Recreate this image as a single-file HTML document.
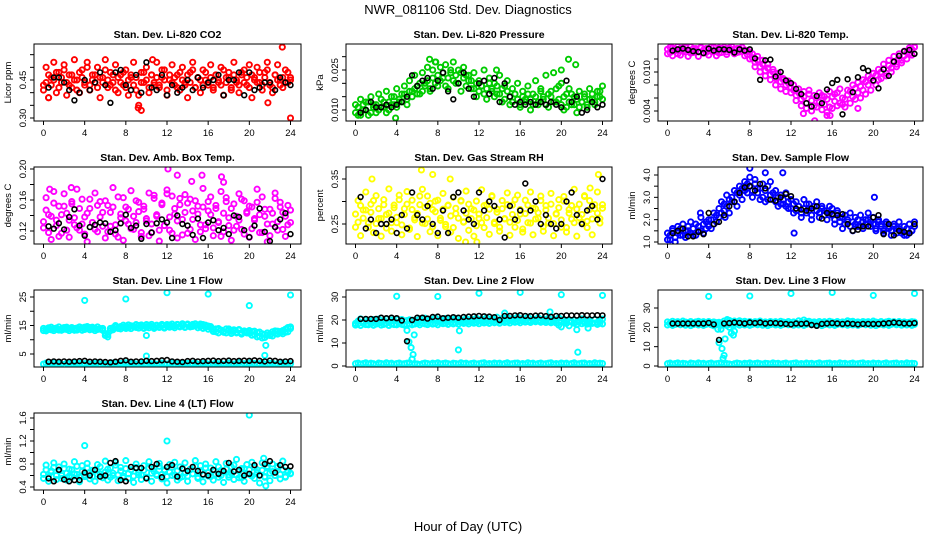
<!DOCTYPE html>
<html><head><meta charset="utf-8"><title>NWR_081106 Std. Dev. Diagnostics</title>
<style>html,body{margin:0;padding:0;background:#fff}svg{display:block;font-family:"Liberation Sans",sans-serif}</style>
</head><body>
<svg id="chart" width="936" height="540" viewBox="0 0 936 540">
<text x="468" y="14" text-anchor="middle" font-size="13">NWR_081106 Std. Dev. Diagnostics</text>
<text x="468" y="531" text-anchor="middle" font-size="13">Hour of Day (UTC)</text>
</svg>
<script>
// ---- data ----
const xTickLabels = [0,4,8,12,16,20,24];

const co2A = [0.41,0.44,0.47,0.43,0.45,0.48,0.42,0.46,0.49,0.44,0.43,0.47,0.45,0.41,0.48,0.46,0.44,0.50,0.43,0.45,0.47,0.42,0.46,0.44,0.49,0.45,0.43,0.47,0.41,0.46,0.44,0.48,0.42,0.45,0.47,0.43,0.46,0.39,0.44,0.48,0.45,0.42,0.47,0.44,0.46,0.43,0.49,0.45,0.41,0.47,0.44,0.46,0.42,0.48,0.45,0.43,0.47,0.44,0.49,0.42,0.46,0.45,0.43,0.48,0.44,0.46,0.42,0.47,0.45,0.43,0.49,0.44,0.46,0.41,0.47,0.45,0.43,0.48,0.44,0.46,0.42,0.47,0.45,0.44,0.48,0.43,0.46,0.49,0.44,0.42,0.47,0.45,0.43,0.46,0.44,0.48,0.45];
const co2B = [0.43,0.50,0.38,0.46,0.52,0.40,0.48,0.44,0.51,0.39,0.47,0.42,0.53,0.45,0.40,0.49,0.43,0.52,0.41,0.47,0.44,0.50,0.38,0.46,0.53,0.42,0.48,0.44,0.51,0.40,0.47,0.43,0.49,0.39,0.46,0.52,0.41,0.35,0.48,0.44,0.50,0.40,0.47,0.43,0.52,0.42,0.46,0.49,0.39,0.45,0.51,0.43,0.47,0.41,0.50,0.44,0.38,0.48,0.52,0.42,0.46,0.40,0.49,0.45,0.43,0.51,0.41,0.47,0.44,0.50,0.39,0.46,0.48,0.42,0.52,0.44,0.40,0.47,0.49,0.43,0.51,0.38,0.46,0.50,0.44,0.41,0.48,0.52,0.43,0.40,0.47,0.51,0.45,0.42,0.49,0.44,0.46];
const co2OutHours = [9.2,9.5,21.8,23.2,24,0.5,10.6];
const co2OutVals = [0.34,0.33,0.36,0.58,0.30,0.38,0.53];
const co2Black = [0.42,0.46,0.46,0.44,0.41,0.37,0.40,0.45,0.41,0.44,0.48,0.43,0.36,0.48,0.49,0.43,0.41,0.47,0.40,0.52,0.42,0.41,0.47,0.39,0.43,0.40,0.42,0.45,0.41,0.46,0.42,0.44,0.45,0.47,0.39,0.45,0.45,0.48,0.39,0.48,0.41,0.42,0.44,0.44,0.41,0.46,0.44,0.43];

const presA = [0.009,0.011,0.008,0.012,0.010,0.013,0.009,0.011,0.012,0.010,0.014,0.011,0.009,0.013,0.012,0.015,0.011,0.014,0.013,0.016,0.014,0.017,0.015,0.018,0.016,0.020,0.017,0.019,0.021,0.018,0.022,0.020,0.023,0.021,0.024,0.019,0.022,0.025,0.021,0.023,0.020,0.024,0.022,0.019,0.023,0.021,0.018,0.020,0.017,0.019,0.016,0.018,0.020,0.017,0.015,0.019,0.016,0.018,0.014,0.017,0.015,0.013,0.016,0.014,0.012,0.015,0.013,0.016,0.014,0.012,0.015,0.013,0.017,0.014,0.012,0.016,0.015,0.013,0.018,0.014,0.012,0.015,0.011,0.013,0.016,0.012,0.014,0.011,0.013,0.015,0.012,0.014,0.016,0.013,0.015,0.017,0.014];
const presB = [0.012,0.008,0.014,0.010,0.013,0.008,0.015,0.012,0.009,0.016,0.011,0.013,0.017,0.010,0.015,0.012,0.018,0.013,0.016,0.019,0.012,0.021,0.017,0.023,0.019,0.016,0.024,0.020,0.026,0.017,0.025,0.028,0.019,0.026,0.022,0.027,0.018,0.024,0.028,0.020,0.025,0.017,0.026,0.023,0.021,0.018,0.024,0.015,0.021,0.019,0.025,0.014,0.022,0.018,0.020,0.016,0.023,0.013,0.019,0.021,0.012,0.018,0.016,0.020,0.011,0.017,0.014,0.019,0.010,0.016,0.021,0.012,0.018,0.015,0.023,0.011,0.017,0.024,0.013,0.019,0.020,0.010,0.016,0.018,0.012,0.015,0.009,0.017,0.013,0.016,0.011,0.018,0.014,0.012,0.017,0.015,0.019];
const presOutHours = [7.2,7.8,20.7,21.4,20.0,13.7,3.9];
const presOutVals = [0.029,0.028,0.029,0.027,0.025,0.025,0.007];
const presBlack = [0.009,0.010,0.013,0.011,0.011,0.012,0.011,0.012,0.013,0.015,0.023,0.019,0.021,0.022,0.018,0.021,0.024,0.017,0.014,0.020,0.024,0.018,0.015,0.020,0.021,0.016,0.022,0.013,0.020,0.015,0.012,0.013,0.012,0.013,0.012,0.013,0.012,0.013,0.012,0.011,0.021,0.013,0.015,0.009,0.010,0.013,0.011,0.012];

const tempA = [0.0135,0.0130,0.0137,0.0133,0.0128,0.0136,0.0132,0.0138,0.0134,0.0129,0.0136,0.0133,0.0131,0.0137,0.0134,0.0130,0.0136,0.0132,0.0138,0.0133,0.0129,0.0136,0.0134,0.0131,0.0137,0.0133,0.0135,0.0130,0.0136,0.0132,0.0134,0.0127,0.0131,0.0122,0.0115,0.0118,0.0108,0.0112,0.0102,0.0106,0.0096,0.0100,0.0090,0.0094,0.0085,0.0088,0.0080,0.0083,0.0076,0.0072,0.0064,0.0068,0.0058,0.0062,0.0052,0.0066,0.0056,0.0048,0.0060,0.0054,0.0064,0.0050,0.0058,0.0046,0.0062,0.0055,0.0068,0.0052,0.0060,0.0058,0.0065,0.0070,0.0062,0.0075,0.0068,0.0078,0.0072,0.0085,0.0080,0.0090,0.0086,0.0095,0.0088,0.0100,0.0105,0.0098,0.0110,0.0106,0.0115,0.0112,0.0120,0.0118,0.0125,0.0130,0.0128,0.0135,0.0138];
const tempB = [0.0128,0.0138,0.0125,0.0135,0.0139,0.0126,0.0137,0.0131,0.0124,0.0139,0.0130,0.0136,0.0124,0.0138,0.0129,0.0136,0.0126,0.0139,0.0131,0.0125,0.0137,0.0130,0.0138,0.0127,0.0135,0.0139,0.0128,0.0136,0.0131,0.0138,0.0125,0.0133,0.0120,0.0128,0.0108,0.0124,0.0100,0.0118,0.0094,0.0112,0.0088,0.0104,0.0080,0.0098,0.0074,0.0090,0.0070,0.0086,0.0068,0.0080,0.0056,0.0074,0.0048,0.0070,0.0044,0.0072,0.0040,0.0064,0.0046,0.0068,0.0042,0.0062,0.0038,0.0070,0.0044,0.0066,0.0048,0.0074,0.0050,0.0046,0.0072,0.0052,0.0080,0.0058,0.0084,0.0060,0.0088,0.0066,0.0094,0.0072,0.0098,0.0080,0.0104,0.0090,0.0112,0.0094,0.0118,0.0100,0.0124,0.0108,0.0128,0.0114,0.0132,0.0120,0.0137,0.0126,0.0139];
const tempOutHours = [14.3,15.5,15.8,13.2,18.5];
const tempOutVals = [0.0025,0.0033,0.0033,0.0036,0.0044];
const tempBlack = [0.0133,0.0135,0.0136,0.0134,0.0132,0.0131,0.0129,0.0136,0.0133,0.0135,0.0135,0.0134,0.0130,0.0135,0.0133,0.0135,0.0121,0.0088,0.0118,0.0119,0.0093,0.0100,0.0087,0.0083,0.0074,0.0066,0.0052,0.0047,0.0063,0.0052,0.0073,0.0083,0.0088,0.0035,0.0089,0.0069,0.0092,0.0106,0.0102,0.0087,0.0075,0.0104,0.0094,0.0116,0.0125,0.0132,0.0134,0.0128];

const ambA = [0.132,0.147,0.118,0.139,0.156,0.127,0.113,0.141,0.152,0.121,0.134,0.158,0.137,0.124,0.149,0.129,0.116,0.143,0.161,0.131,0.122,0.153,0.138,0.126,0.159,0.119,0.144,0.151,0.128,0.112,0.142,0.163,0.133,0.148,0.123,0.139,0.131,0.157,0.118,0.152,0.136,0.114,0.129,0.166,0.141,0.121,0.154,0.127,0.168,0.138,0.117,0.149,0.133,0.162,0.115,0.144,0.156,0.122,0.135,0.159,0.142,0.119,0.151,0.128,0.146,0.164,0.124,0.153,0.131,0.113,0.143,0.158,0.127,0.149,0.121,0.139,0.134,0.161,0.116,0.145,0.152,0.123,0.136,0.157,0.141,0.118,0.148,0.129,0.114,0.143,0.162,0.132,0.151,0.122,0.139,0.128,0.147];
const ambB = [0.124,0.163,0.141,0.109,0.171,0.134,0.152,0.117,0.168,0.143,0.112,0.155,0.128,0.174,0.121,0.161,0.138,0.106,0.149,0.131,0.169,0.119,0.158,0.144,0.111,0.153,0.126,0.176,0.116,0.164,0.137,0.108,0.151,0.129,0.172,0.122,0.159,0.145,0.113,0.148,0.133,0.169,0.118,0.162,0.139,0.107,0.156,0.127,0.173,0.121,0.165,0.142,0.111,0.154,0.135,0.167,0.117,0.161,0.146,0.109,0.152,0.128,0.175,0.123,0.158,0.141,0.114,0.149,0.132,0.171,0.119,0.163,0.137,0.108,0.155,0.126,0.168,0.122,0.159,0.143,0.112,0.151,0.134,0.174,0.118,0.164,0.139,0.106,0.148,0.129,0.169,0.121,0.157,0.144,0.113,0.153,0.131];
const ambOutHours = [12.1,13.0,15.4,17.3,17.5,14.4,2.7,0.6];
const ambOutVals = [0.200,0.192,0.192,0.190,0.183,0.184,0.176,0.174];
const ambBlack = [0.126,0.123,0.130,0.122,0.138,0.148,0.127,0.114,0.125,0.128,0.131,0.130,0.119,0.121,0.130,0.141,0.124,0.127,0.110,0.129,0.118,0.130,0.135,0.131,0.111,0.140,0.129,0.127,0.115,0.136,0.111,0.131,0.134,0.121,0.124,0.116,0.140,0.138,0.121,0.112,0.127,0.149,0.119,0.107,0.125,0.135,0.143,0.116];

const rhA = [0.272,0.254,0.291,0.263,0.281,0.243,0.276,0.302,0.251,0.284,0.262,0.293,0.241,0.274,0.253,0.286,0.265,0.304,0.248,0.271,0.294,0.238,0.282,0.259,0.273,0.312,0.252,0.287,0.261,0.296,0.244,0.277,0.303,0.258,0.283,0.249,0.292,0.268,0.242,0.285,0.263,0.301,0.255,0.274,0.294,0.262,0.281,0.246,0.272,0.253,0.291,0.264,0.283,0.313,0.251,0.276,0.243,0.284,0.262,0.293,0.254,0.271,0.304,0.258,0.282,0.239,0.273,0.292,0.252,0.285,0.261,0.275,0.302,0.244,0.281,0.263,0.294,0.251,0.272,0.286,0.259,0.301,0.242,0.274,0.291,0.253,0.283,0.264,0.271,0.311,0.256,0.282,0.261,0.293,0.274,0.252,0.285];
const rhB = [0.243,0.302,0.224,0.281,0.321,0.252,0.294,0.231,0.313,0.262,0.223,0.304,0.271,0.328,0.234,0.292,0.253,0.314,0.226,0.284,0.322,0.241,0.303,0.264,0.222,0.293,0.327,0.251,0.312,0.233,0.282,0.301,0.224,0.263,0.318,0.244,0.291,0.232,0.309,0.273,0.218,0.302,0.254,0.323,0.236,0.284,0.223,0.301,0.262,0.326,0.242,0.293,0.227,0.311,0.254,0.283,0.234,0.302,0.261,0.319,0.225,0.292,0.243,0.314,0.272,0.232,0.303,0.253,0.321,0.226,0.284,0.263,0.312,0.234,0.291,0.252,0.318,0.224,0.273,0.304,0.243,0.311,0.232,0.282,0.261,0.327,0.223,0.294,0.254,0.313,0.242,0.302,0.226,0.284,0.321,0.262,0.293];
const rhOutHours = [6.4,1.6,7.5,9.2,22.8,11.8,10.7,23.6];
const rhOutVals = [0.37,0.35,0.36,0.35,0.33,0.21,0.21,0.36];
const rhBlack = [0.31,0.24,0.26,0.23,0.25,0.25,0.26,0.23,0.27,0.24,0.32,0.27,0.26,0.29,0.25,0.23,0.28,0.23,0.31,0.32,0.28,0.26,0.25,0.32,0.28,0.30,0.29,0.26,0.22,0.29,0.26,0.28,0.34,0.28,0.30,0.25,0.27,0.25,0.24,0.25,0.30,0.32,0.27,0.25,0.28,0.29,0.26,0.35];

const flowA = [1.1,1.3,1.5,1.2,1.4,1.6,1.3,1.5,1.7,1.4,1.6,1.3,1.7,1.5,1.8,1.6,1.7,2.0,1.8,2.2,2.5,2.3,2.7,2.6,2.9,3.0,2.8,3.2,3.1,3.4,3.3,3.6,3.5,3.3,3.6,3.2,3.4,3.0,3.3,2.9,3.1,3.2,2.8,3.0,2.7,2.9,2.6,2.8,2.5,2.7,2.4,2.6,2.3,2.5,2.7,2.4,2.2,2.6,2.4,2.3,2.5,2.2,2.4,2.3,2.2,2.0,2.3,1.9,2.1,1.8,2.0,1.7,1.9,1.8,2.0,1.7,1.9,1.8,2.0,1.9,1.8,1.6,1.9,1.7,1.5,1.8,1.6,1.5,1.7,1.4,1.6,1.5,1.3,1.6,1.4,1.5,1.7];
const flowB = [1.4,1.1,1.6,1.0,1.7,1.3,1.8,1.2,1.5,1.9,1.3,1.8,1.5,2.1,1.4,1.9,2.0,1.6,2.3,1.9,2.1,2.8,2.4,3.1,2.3,2.8,3.3,2.6,3.5,2.9,3.7,3.2,3.9,3.0,3.8,3.4,2.9,3.6,2.8,3.5,3.7,2.9,3.3,2.6,3.1,2.7,3.2,2.5,2.9,2.3,2.8,2.6,2.1,2.9,2.3,2.7,2.0,2.6,2.8,2.1,2.6,2.4,2.0,2.6,2.5,1.8,2.4,2.1,1.6,2.2,1.9,2.3,1.5,2.1,1.7,2.2,1.6,2.0,2.3,1.7,2.1,1.5,2.0,1.8,1.4,1.9,1.7,1.3,1.8,1.6,1.9,1.4,1.7,1.3,1.8,1.5,1.9];
const flowOutHours = [8.0,9.5,11.2,20.1,12.3,3.2,5.6];
const flowOutVals = [4.3,4.1,4.1,3.0,1.4,2.3,2.1];
const flowBlack = [1.4,1.5,1.6,1.25,1.25,1.45,1.35,2.3,1.8,1.9,2.2,2.6,2.8,3.2,3.45,3.5,3.3,3.6,3.4,2.9,2.85,3.0,3.15,3.05,2.5,2.45,2.4,2.5,2.6,2.05,2.3,2.25,2.2,2.25,1.8,1.5,1.55,1.7,1.7,2.1,2.2,1.35,1.8,1.3,1.5,1.45,1.4,1.8];

const line1A = [13.2,13.8,14.2,13.5,13.9,14.1,13.4,13.8,14.3,13.6,14.0,13.7,13.3,14.1,13.8,14.2,14.4,13.9,14.3,13.7,14.1,13.6,13.9,13.3,11.5,11.0,13.2,14.2,14.5,14.0,14.6,14.3,14.8,14.2,14.9,14.5,14.3,15.0,14.6,14.8,14.4,15.1,14.7,14.5,15.0,14.6,14.9,14.3,14.8,15.2,14.6,14.9,15.3,14.7,15.0,14.5,15.2,14.8,15.4,14.9,15.1,14.6,15.3,14.4,14.8,14.2,13.6,12.8,13.9,13.4,12.6,13.8,13.2,12.9,13.5,12.7,13.3,12.5,13.1,12.8,12.3,12.9,11.8,12.5,11.2,12.1,10.8,12.4,11.5,12.8,12.2,13.0,12.4,13.2,12.6,14.3,13.9];
const line1B = [14.0,13.1,13.6,14.4,13.2,13.7,14.5,13.3,13.7,14.4,13.2,14.3,13.9,13.4,14.5,13.3,13.6,14.6,13.5,14.4,13.2,14.5,13.7,14.0,12.2,11.8,14.0,13.5,15.0,14.1,13.8,15.1,14.0,15.2,13.9,14.8,15.3,14.1,15.2,14.0,15.3,14.2,15.4,14.0,15.1,14.3,15.4,14.1,15.3,14.4,15.5,14.2,15.4,14.5,15.6,14.3,15.5,14.5,14.7,15.6,14.2,15.5,14.0,15.1,13.7,14.6,12.9,13.8,12.4,13.3,12.9,12.4,13.8,12.2,13.1,12.4,13.6,12.0,12.9,12.4,13.2,11.6,13.0,11.0,12.7,10.6,11.8,11.6,12.0,11.3,13.1,12.0,12.9,12.1,13.7,12.8,14.5];
const line1Low = [1.5,1.8,1.3,1.6,1.9,1.4,1.7,1.5,1.2,1.8,1.6,1.4,1.9,1.5,1.7,1.3,1.6,1.8,1.4,1.5,1.7,1.9,1.3,1.6,1.4,1.1,1.5,1.8,1.6,1.3,1.7,1.5,1.9,1.4,1.6,1.8,1.5,1.3,1.7,1.6,1.4,1.9,1.5,1.7,1.3,1.6,1.8,1.4,1.5,1.7,1.9,1.3,1.6,1.4,1.8,1.5,1.7,1.3,1.6,1.9,1.4,1.5,1.7,1.8,1.3,1.6,1.4,1.9,1.5,1.7,1.3,1.6,1.8,1.4,1.5,1.7,1.9,1.3,1.6,1.4,1.8,1.5,1.7,1.3,1.6,1.9,1.4,1.5,1.7,1.8,1.3,1.6,1.4,1.9,1.5,1.7,1.6];
const line1OutHours = [4,8,12,16,20,24,21.6,21.5,10,10];
const line1OutVals = [23.8,24.3,26.5,26.0,22.0,25.7,8.0,4.5,4.3,11.5];
const line1Black = [2.3,2.4,2.3,2.4,2.3,2.4,2.5,2.6,2.3,2.4,2.3,2.2,2.1,2.3,2.6,2.8,2.3,2.4,2.4,2.6,2.5,2.6,2.8,2.9,2.4,2.3,2.2,2.5,2.6,2.4,2.5,2.6,2.7,2.5,2.6,2.7,2.5,2.6,2.7,2.6,2.8,2.6,2.4,2.7,2.6,2.3,2.4,2.5];

const line2A = [18.5,19.5,20.5,19.0,20.0,19.5,18.8,20.2,19.3,20.4,19.0,19.8,20.5,19.2,20.0,19.6,20.3,19.1,20.2,19.5,19.8,20.1,19.6,20.0,19.2,20.5,19.6,20.8,19.4,20.3,19.8,20.9,19.5,20.2,19.7,20.6,19.3,20.4,19.9,20.7,19.4,20.1,19.8,20.6,19.5,20.3,19.9,20.8,19.6,20.4,20.0,21.0,19.7,20.5,20.1,21.2,19.8,20.6,20.2,21.1,19.9,20.7,20.3,21.3,19.8,20.6,20.0,21.2,19.7,20.5,20.1,21.0,19.6,20.4,19.9,20.8,19.5,20.3,19.8,20.9,19.4,20.2,19.7,19.5,19.3,20.0,19.1,19.6,20.5,19.2,20.0,19.5,18.8,20.2,19.0,19.7,20.4];
const line2B = [17.8,18.3,17.6,18.5,18.0,17.9,18.4,17.7,18.2,18.6,17.8,18.1,18.5,17.6,18.3,18.0,17.9,18.4,18.1,17.8,18.0,18.3,17.9,18.2,18.5,17.9,18.6,18.3,18.0,18.7,18.2,18.5,17.9,18.8,18.4,18.6,18.1,18.9,18.3,18.7,18.2,19.0,18.5,18.8,18.3,19.1,18.6,18.9,18.4,19.2,18.7,19.0,18.5,19.3,18.8,19.1,18.6,19.4,18.9,19.2,18.7,19.5,19.0,19.3,18.8,19.6,19.1,19.4,18.9,19.6,19.2,19.5,19.0,19.4,18.9,19.3,18.8,19.2,18.7,17.8,17.0,19.0,18.5,17.5,19.1,18.6,18.0,19.2,18.4,18.8,18.2,19.0,18.5,18.7,18.1,18.6,18.3];
const line2Low = [1.0,1.3,0.8,1.1,1.4,0.9,1.2,1.0,0.7,1.3,1.1,0.9,1.4,1.0,1.2,0.8,1.1,1.3,0.9,1.0,1.2,1.4,0.8,1.1,0.9,0.6,1.0,1.3,1.1,0.8,1.2,1.0,1.4,0.9,1.1,1.3,1.0,0.8,1.2,1.1,0.9,1.4,1.0,1.2,0.8,1.1,1.3,0.9,1.0,1.2,1.4,0.8,1.1,0.9,1.3,1.0,1.2,0.8,1.1,1.4,0.9,1.0,1.2,1.3,0.8,1.1,0.9,1.4,1.0,1.2,0.8,1.1,1.3,0.9,1.0,1.2,1.4,0.8,1.1,0.9,1.3,1.0,1.2,0.8,1.1,1.4,0.9,1.0,1.2,1.3,0.8,1.1,0.9,1.4,1.0,1.2,1.1];
const line2OutHours = [4,8,12,16,20,24,5.0,5.2,5.4,5.5,5.6,5.7,10,10.1,21.5,21.6,22.6,18.9,14.5];
const line2OutVals = [30.3,30.2,31.6,32.0,31.0,30.7,15.5,10.5,8.0,3.0,5.0,13.5,7.0,15.3,15.8,6.0,16.5,23.5,23.0];
const line2Black = [20.5,20.5,20.5,20.5,21.0,20.8,21.0,20.8,19.8,10.8,20.0,21.0,21.0,20.6,21.3,21.5,20.8,21.0,21.2,21.0,21.3,21.5,21.6,21.8,21.6,21.5,21.2,20.0,21.8,21.8,22.0,22.1,21.8,21.7,21.9,22.0,21.7,21.4,21.8,21.8,22.0,22.0,21.9,22.1,22.0,22.0,22.1,22.0];

const line3A = [22.8,22.3,23.1,22.6,22.9,22.4,23.2,22.7,22.5,23.0,22.3,22.8,23.1,22.6,22.9,22.2,23.0,22.5,22.8,22.4,22.6,22.1,23.3,22.7,23.6,22.9,23.2,22.5,23.4,22.8,23.1,22.6,23.0,22.4,22.9,22.7,23.2,22.5,22.8,22.3,23.0,22.6,22.9,22.4,23.1,22.7,22.5,23.0,22.3,22.8,22.2,23.4,22.6,23.8,22.9,23.1,22.6,22.8,22.3,23.0,22.5,22.9,22.4,23.1,22.7,22.5,23.0,22.3,22.8,22.6,23.4,22.9,23.1,22.5,22.8,22.3,23.0,22.6,22.9,22.4,23.2,22.7,22.5,23.0,22.3,22.8,23.1,22.6,22.9,22.2,23.0,22.5,22.8,22.4,22.6,22.9,22.7];
const line3B = [21.2,21.8,21.0,21.5,21.9,21.3,21.7,21.1,21.6,20.9,21.4,21.8,21.2,21.6,21.0,21.5,21.9,21.3,20.8,21.4,21.7,21.1,21.6,21.0,21.5,21.9,21.3,21.7,21.1,21.6,21.2,21.8,21.0,21.5,21.9,21.3,21.7,21.1,21.6,20.9,21.4,21.8,21.2,21.6,21.0,21.5,21.9,21.3,21.7,21.1,21.6,21.2,21.8,21.0,21.5,21.9,21.3,21.7,21.1,21.6,20.9,21.4,21.8,21.2,21.6,21.0,21.5,21.9,21.3,21.7,21.1,21.6,21.2,21.8,21.0,21.5,21.9,21.3,21.7,21.1,21.6,20.9,21.4,21.8,21.2,21.6,21.0,21.5,21.9,21.3,21.7,21.1,21.6,21.2,21.8,21.0,21.5];
const line3Low = [1.2,1.5,1.0,1.3,1.6,1.1,1.4,1.2,0.9,1.5,1.3,1.1,1.6,1.2,1.4,1.0,1.3,1.5,1.1,1.2,1.4,1.6,1.0,1.3,1.1,0.8,1.2,1.5,1.3,1.0,1.4,1.2,1.6,1.1,1.3,1.5,1.2,1.0,1.4,1.3,1.1,1.6,1.2,1.4,1.0,1.3,1.5,1.1,1.2,1.4,1.6,1.0,1.3,1.1,1.5,1.2,1.4,1.0,1.3,1.6,1.1,1.2,1.4,1.5,1.0,1.3,1.1,1.6,1.2,1.4,1.0,1.3,1.5,1.1,1.2,1.4,1.6,1.0,1.3,1.1,1.5,1.2,1.4,1.0,1.3,1.6,1.1,1.2,1.4,1.5,1.0,1.3,1.1,1.6,1.2,1.4,1.3];
const line3OutHours = [4,8,12,16,20,24,5.0,5.2,5.3,5.4,5.5,5.6,5.8,6.0,6.2,6.4,6.5,4.9];
const line3OutVals = [36.0,36.2,37.5,38.0,36.5,37.5,12.0,19.0,9.0,4.0,5.5,14.0,24.0,20.0,17.0,16.0,18.0,19.0];
const line3Black = [22.0,22.0,22.0,22.0,22.0,22.0,22.0,22.3,21.5,13.5,22.0,22.2,22.5,22.3,22.0,22.5,22.2,22.5,22.0,22.3,22.2,22.0,21.8,21.5,22.0,21.8,22.0,21.2,20.8,21.8,22.0,22.2,22.0,21.8,22.0,21.8,21.5,21.8,21.8,21.7,21.8,22.0,22.2,22.5,22.3,22.0,22.0,22.2];

const line4A = [0.62,0.70,0.58,0.66,0.74,0.60,0.68,0.55,0.72,0.64,0.59,0.70,0.63,0.76,0.57,0.67,0.61,0.73,0.65,0.58,0.69,0.62,0.75,0.60,0.66,0.71,0.57,0.64,0.78,0.61,0.68,0.56,0.72,0.63,0.70,0.59,0.74,0.65,0.61,0.69,0.57,0.73,0.64,0.67,0.60,0.76,0.62,0.70,0.58,0.66,0.74,0.61,0.68,0.56,0.72,0.64,0.59,0.70,0.63,0.76,0.57,0.67,0.61,0.73,0.65,0.58,0.69,0.62,0.75,0.60,0.66,0.71,0.57,0.64,0.78,0.61,0.68,0.56,0.72,0.63,0.70,0.59,0.74,0.65,0.61,0.69,0.57,0.73,0.64,0.67,0.60,0.76,0.62,0.70,0.58,0.66,0.64];
const line4B = [0.55,0.78,0.50,0.68,0.82,0.53,0.75,0.60,0.80,0.52,0.71,0.57,0.84,0.62,0.49,0.77,0.58,0.81,0.54,0.69,0.50,0.79,0.63,0.56,0.85,0.52,0.73,0.60,0.83,0.51,0.74,0.59,0.86,0.55,0.70,0.48,0.80,0.61,0.53,0.77,0.57,0.84,0.50,0.72,0.62,0.81,0.54,0.68,0.47,0.79,0.60,0.83,0.52,0.75,0.58,0.82,0.50,0.71,0.63,0.86,0.55,0.77,0.49,0.80,0.59,0.73,0.52,0.84,0.57,0.69,0.48,0.81,0.61,0.75,0.53,0.88,0.56,0.72,0.50,0.79,0.62,0.83,0.55,0.70,0.47,0.82,0.58,0.76,0.51,0.80,0.60,0.74,0.54,0.85,0.57,0.68,0.63];
const line4OutHours = [4.0,12.0,20.0,21.6,21.4];
const line4OutVals = [1.12,1.20,1.65,0.42,0.90];
const line4Black = [0.55,0.50,0.70,0.53,0.50,0.52,0.52,0.65,0.60,0.70,0.58,0.60,0.82,0.85,0.52,0.50,0.75,0.73,0.73,0.55,0.75,0.80,0.57,0.75,0.78,0.58,0.72,0.68,0.75,0.68,0.62,0.60,0.70,0.63,0.68,0.82,0.67,0.70,0.60,0.63,0.78,0.60,0.80,0.85,0.65,0.78,0.75,0.76];

const panels = [
 {name:'co2',title:'Stan. Dev. Li-820 CO2',ylab:'Licor ppm',col:0,row:0,color:'#ff0000',ref:[0.30,74,0.45,36],ticks:[0.30,0.35,0.40,0.45,0.50,0.55],labels:['0.30','','','0.45','',''],series:[co2A,co2B],low:null,oh:co2OutHours,ov:co2OutVals,black:co2Black},
 {name:'pressure',title:'Stan. Dev. Li-820 Pressure',ylab:'kPa',col:1,row:0,color:'#00cc00',ref:[0.010,66,0.025,26],ticks:[0.010,0.015,0.020,0.025,0.030],labels:['0.010','','','0.025',''],series:[presA,presB],low:null,oh:presOutHours,ov:presOutVals,black:presBlack},
 {name:'li820-temp',title:'Stan. Dev. Li-820 Temp.',ylab:'degrees C',col:2,row:0,color:'#ff00ff',ref:[0.004,67,0.010,28],ticks:[0.004,0.006,0.008,0.010,0.012],labels:['0.004','','','0.010',''],series:[tempA,tempB],low:null,oh:tempOutHours,ov:tempOutVals,black:tempBlack},
 {name:'amb-box-temp',title:'Stan. Dev. Amb. Box Temp.',ylab:'degrees C',col:0,row:1,color:'#ff00ff',ref:[0.12,64,0.20,2],ticks:[0.12,0.14,0.16,0.18,0.20],labels:['0.12','','0.16','','0.20'],series:[ambA,ambB],low:null,oh:ambOutHours,ov:ambOutVals,black:ambBlack},
 {name:'gas-rh',title:'Stan. Dev. Gas Stream RH',ylab:'percent',col:1,row:1,color:'#ffff00',ref:[0.25,57,0.35,12],ticks:[0.25,0.30,0.35],labels:['0.25','','0.35'],series:[rhA,rhB],low:null,oh:rhOutHours,ov:rhOutVals,black:rhBlack},
 {name:'sample-flow',title:'Stan. Dev. Sample Flow',ylab:'ml/min',col:2,row:1,color:'#0000ff',ref:[1.0,75,4.0,8],ticks:[1.0,1.5,2.0,2.5,3.0,3.5,4.0],labels:['1.0','','2.0','','3.0','','4.0'],series:[flowA,flowB],low:null,oh:flowOutHours,ov:flowOutVals,black:flowBlack},
 {name:'line1-flow',title:'Stan. Dev. Line 1 Flow',ylab:'ml/min',col:0,row:2,color:'#00ffff',ref:[5,64,25,7],ticks:[5,10,15,20,25],labels:['5','','15','','25'],series:[line1A,line1B],low:line1Low,oh:line1OutHours,ov:line1OutVals,black:line1Black},
 {name:'line2-flow',title:'Stan. Dev. Line 2 Flow',ylab:'ml/min',col:1,row:2,color:'#00ffff',ref:[0,76,30,7],ticks:[0,10,20,30],labels:['0','10','20','30'],series:[line2A,line2B],low:line2Low,oh:line2OutHours,ov:line2OutVals,black:line2Black},
 {name:'line3-flow',title:'Stan. Dev. Line 3 Flow',ylab:'ml/min',col:2,row:2,color:'#00ffff',ref:[0,76,30,18],ticks:[0,10,20,30],labels:['0','10','20','30'],series:[line3A,line3B],low:line3Low,oh:line3OutHours,ov:line3OutVals,black:line3Black},
 {name:'line4-flow',title:'Stan. Dev. Line 4 (LT) Flow',ylab:'ml/min',col:0,row:3,color:'#00ffff',ref:[0.4,74,1.6,5],ticks:[0.4,0.6,0.8,1.0,1.2,1.4,1.6],labels:['0.4','','0.8','','1.2','','1.6'],series:[line4A,line4B],low:null,oh:line4OutHours,ov:line4OutVals,black:line4Black}
];

const colLeft=[34,346,658], colW=[267,266,265], rowTop=[44,167,290,413], boxH=77;
const NS='http://www.w3.org/2000/svg';
const svg=document.getElementById('chart');
function mk(tag,attrs,parent){const e=document.createElementNS(NS,tag);for(const k in attrs)e.setAttribute(k,attrs[k]);(parent||svg).appendChild(e);return e;}

panels.forEach(p=>{
  const L=colLeft[p.col], W=colW[p.col], T=rowTop[p.row], B=T+boxH;
  const x0=L+9.5, ppu=247/24;
  const xS=h=>x0+h*ppu;
  const [v1,o1,v2,o2]=p.ref;
  const yS=v=>T+o1+(v-v1)*(o2-o1)/(v2-v1);
  const g=mk('g',{});
  
  
  const t=mk('text',{x:L+W/2,y:T-6,'text-anchor':'middle','font-size':'10.5','font-weight':'bold'},g);
  t.textContent=p.title;
  
  
  const yl=mk('text',{x:L-23,y:(T+B)/2,'text-anchor':'middle','font-size':'9.5',transform:`rotate(-90 ${L-23} ${(T+B)/2})`},g);
  yl.textContent=p.ylab;
  
  
  p.ticks.forEach((v,i)=>{
    const y=yS(v);
    const tk=mk('line',{x1:L-4,x2:L,y1:y,y2:y,stroke:'#000','stroke-width':1},g);
    
    
    if(p.labels[i]){
      const lb=mk('text',{x:L-8,y:y,'text-anchor':'middle','font-size':'9.5',transform:`rotate(-90 ${L-8} ${y})`},g);
      lb.textContent=p.labels[i];
      
      
    }
  });
  xTickLabels.forEach(h=>{
    const x=xS(h);
    const tk=mk('line',{x1:x,x2:x,y1:B,y2:B+4,stroke:'#000','stroke-width':1},g);
    
    
    const lb=mk('text',{x:x,y:B+15,'text-anchor':'middle','font-size':'9.5'},g);
    lb.textContent=String(h);
    
    
  });
  const cid='clip-'+p.name;
  const cp=mk('clipPath',{id:cid},g);
  mk('rect',{x:L,y:T,width:W,height:boxH},cp);
  const pts=mk('g',{'clip-path':`url(#${cid})`,fill:'none'},g);
  
  
  const dot=(h,v,c,nm,r,sw)=>{
    const c1=mk('circle',{cx:xS(h).toFixed(1),cy:yS(v).toFixed(1),r:r,stroke:c,'stroke-width':sw},pts);
    
    
  };
  const all=p.low?[p.low].concat(p.series):p.series;
  all.forEach(arr=>{arr.forEach((v,i)=>dot(i*24/(arr.length-1),v,p.color,'colored-point',2.6,1.9));});
  p.oh.forEach((h,i)=>dot(h,p.ov[i],p.color,'outlier-point',2.6,1.9));
  p.black.forEach((v,i)=>dot(0.5+i*23.5/(p.black.length-1),v,'#000','hourly-point',2.4,1.6));
  const box=mk('rect',{x:L,y:T,width:W,height:boxH,fill:'none',stroke:'#000','stroke-width':1},g);
  
  
});
</script>
</body></html>
